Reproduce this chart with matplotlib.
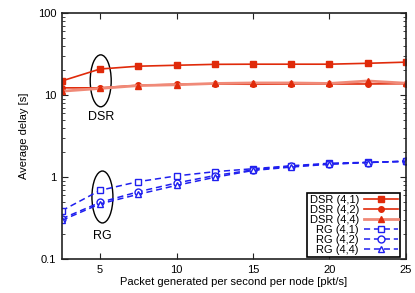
import matplotlib
matplotlib.use("Agg")
import matplotlib.pyplot as plt
from matplotlib.patches import Ellipse
from matplotlib.ticker import LogLocator, FixedLocator, NullFormatter

x = [2.5, 5, 7.5, 10, 12.5, 15, 17.5, 20, 22.5, 25]
dsr_41 = [14.8, 20.7, 22.4, 23.0, 23.6, 23.7, 23.7, 23.7, 24.3, 25.1]
dsr_42 = [12.2, 12.2, 13.1, 13.5, 13.6, 13.5, 13.6, 13.6, 13.6, 13.7]
dsr_44 = [11.1, 12.0, 13.0, 13.3, 13.8, 14.0, 14.0, 13.8, 14.8, 13.9]
rg_41 = [0.388, 0.687, 0.877, 1.03, 1.16, 1.26, 1.37, 1.47, 1.51, 1.55]
rg_42 = [0.31, 0.49, 0.66, 0.845, 1.04, 1.22, 1.35, 1.44, 1.50, 1.55]
rg_44 = [0.296, 0.47, 0.615, 0.79, 0.99, 1.20, 1.32, 1.43, 1.50, 1.56]

xticks = [5, 10, 15, 20, 25]
yticks = [0.1, 1, 10, 100]
ytick_labels = ["0.1", "1", "10", "100"]

plt.rcParams['font.family'] = ['Liberation Sans', 'DejaVu Sans']
fig = plt.figure(figsize=(4.15, 2.93), dpi=100)
ax = fig.add_axes([0.149, 0.116, 0.829, 0.840])

red = "#e02a0a"
light = "#f08a78"
blue = "#1f1fef"

ax.plot(x, dsr_41, color=red, lw=1.2, marker="s", ms=5, label="DSR (4,1)")
ax.plot(x, dsr_42, color=red, lw=1.2, marker="o", ms=4, label="DSR (4,2)")
ax.plot(x, dsr_44, color=light, lw=2.0, marker="^", ms=4, mfc=red, mec=red, label="DSR (4,4)")
ax.plot(x, rg_41, color=blue, lw=1.1, ls=(0, (4, 2.5)), marker="s", ms=5, mfc="white", mec=blue, mew=1.0, label="RG (4,1)")
ax.plot(x, rg_42, color=blue, lw=1.1, ls=(0, (4, 2.5)), marker="o", ms=5, mfc="white", mec=blue, mew=1.0, label="RG (4,2)")
ax.plot(x, rg_44, color=blue, lw=1.1, ls=(0, (4, 2.5)), marker="^", ms=5, mfc="white", mec=blue, mew=1.0, label="RG (4,4)")

ax.set_yscale("log")
ax.set_xlim(2.5, 25)
ax.set_ylim(0.1, 100)
ax.xaxis.set_major_locator(FixedLocator(xticks))
ax.set_xticklabels([str(t) for t in xticks])
ax.yaxis.set_major_locator(FixedLocator(yticks))
ax.set_yticklabels(ytick_labels)
ax.yaxis.set_minor_locator(LogLocator(base=10, subs=range(2, 10)))
ax.yaxis.set_minor_formatter(NullFormatter())
ax.tick_params(which="both", direction="in", top=True, right=True, labelsize=8, color="#222222")
ax.tick_params(which="major", length=4, width=0.8, pad=4)
ax.tick_params(which="minor", length=2, width=0.6)
for s in ax.spines.values():
    s.set_linewidth(1.2)
    s.set_color("#222222")

ax.set_xlabel("Packet generated per second per node [pkt/s]", fontsize=8, labelpad=2)
ax.set_ylabel("Average delay [s]", fontsize=8, labelpad=6)

ax.add_patch(Ellipse((0.113, 0.724), 0.061, 0.211, transform=ax.transAxes, fill=False, ec="black", lw=1.0))
ax.add_patch(Ellipse((0.118, 0.252), 0.061, 0.211, transform=ax.transAxes, fill=False, ec="black", lw=1.0))
ax.text(0.113, 0.575, "DSR", transform=ax.transAxes, ha="center", va="center", fontsize=9)
ax.text(0.118, 0.095, "RG", transform=ax.transAxes, ha="center", va="center", fontsize=9)

leg = ax.legend(loc="lower right", bbox_to_anchor=(0.983, 0.008), markerfirst=False, fontsize=8,
                frameon=True, fancybox=False, edgecolor="black", framealpha=1, borderpad=0.2,
                labelspacing=0.0, handlelength=3.0, handletextpad=0.5, borderaxespad=0.0)
leg.get_frame().set_linewidth(1.2)

fig.savefig("out.png", dpi=100)
